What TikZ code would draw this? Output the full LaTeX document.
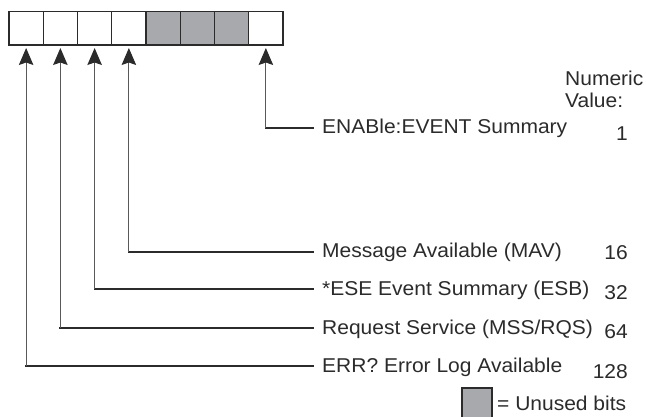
\documentclass[tikz,border=0pt]{standalone}
\usepackage{fontspec}
\setmainfont{Liberation Sans}[FakeStretch=1.05]
\usetikzlibrary{positioning,arrows.meta}
\definecolor{unused}{HTML}{A7A9AC}
\definecolor{ink}{HTML}{2B2B2B}

\begin{document}
\begin{tikzpicture}[
    x=1pt, y=-1pt,
    font=\fontsize{20}{22}\selectfont,
    bit_style/.style={draw=ink, line width=1.3pt, minimum width=34.25pt, minimum height=33.5pt, inner sep=0pt, outer sep=0pt},
    lbl_style/.style={anchor=west, inner xsep=9pt, inner ysep=0pt, text height=15pt, text depth=3pt, text=ink},
    val_style/.style={anchor=base east, inner sep=0pt, text=ink},
    hline/.style={line width=1.8pt, ink, line cap=rect},
    vline/.style={line width=1.1pt, black!65, -{Stealth[length=17pt, width=14.5pt, inset=2.5pt, color=ink]}, shorten >=3pt}
]
\useasboundingbox (0,0) rectangle (646,417);

% ===== Status byte: bit 7 (left) ... bit 0 (right) =====
\node[bit_style] (b7) at (26.125,28.25) {};
\node[bit_style, right=0pt of b7] (b6) {};
\node[bit_style, right=0pt of b6] (b5) {};
\node[bit_style, right=0pt of b5] (b4) {};

% Unused bits (grey)
\node[bit_style, fill=unused, right=0pt of b4] (b3) {};
\node[bit_style, fill=unused, right=0pt of b3] (b2) {};
\node[bit_style, fill=unused, right=0pt of b2] (b1) {};

\node[bit_style, right=0pt of b1] (b0) {};

% ===== Bit labels =====
\node[lbl_style] (enab) at (313,128) {ENABle:EVENT Summary};
\node[lbl_style] (mav) at (313,252) {Message Available (MAV)};
\node[lbl_style] (esb) at (313,289) {*ESE Event Summary (ESB)};
\node[lbl_style] (rqs) at (313,328) {Request Service (MSS/RQS)};
\node[lbl_style] (err) at (313,366) {ERR? Error Log Available};

% Connectors (label -> bit)
\draw[hline] (enab.west) -- (enab.west -| b0.south);
\draw[vline] (enab.west -| b0.south) -- (b0.south);
\draw[hline] (mav.west) -- (mav.west -| b4.south);
\draw[vline] (mav.west -| b4.south) -- (b4.south);
\draw[hline] (esb.west) -- (esb.west -| b5.south);
\draw[vline] (esb.west -| b5.south) -- (b5.south);
\draw[hline] (rqs.west) -- (rqs.west -| b6.south);
\draw[vline] (rqs.west -| b6.south) -- (b6.south);
\draw[hline] (err.west) -- (err.west -| b7.south);
\draw[vline] (err.west -| b7.south) -- (b7.south);

% ===== Numeric values =====
\node[anchor=north west, inner sep=0pt, align=left, text=ink] (numhead) at (565,71) {Numeric\\Value:};
\node[val_style] (v1) at (628,141) {1};
\node[val_style] (v16) at (628,259) {16};
\node[val_style] (v32) at (628,299) {32};
\node[val_style] (v64) at (628,338) {64};
\node[val_style] (v128) at (628,378) {128};

% Legend (box runs off the bottom edge)
\node[bit_style, fill=unused, minimum width=30pt, minimum height=34pt] (key) at (477,405) {};
\node[anchor=base west, inner sep=0pt, text=ink] (keytxt) at ([xshift=5pt]key.east |- 0,410) {= Unused bits};

\end{tikzpicture}
\end{document}
